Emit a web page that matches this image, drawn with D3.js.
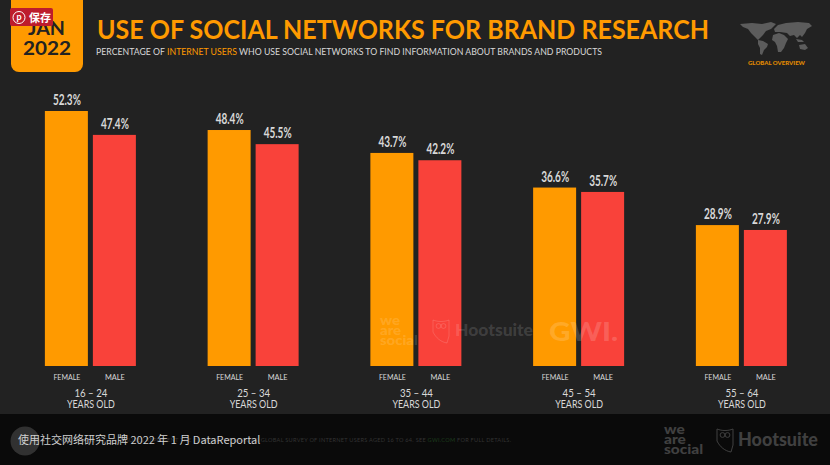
<!DOCTYPE html>
<html>
<head>
<meta charset="utf-8">
<script src="https://cdn.jsdelivr.net/npm/d3@7"></script>
<style>
    html, body { margin: 0; padding: 0; background: #222; }
    svg { display: block; }
    text { font-family: Lato, "Noto Sans", sans-serif; }
    .axis path, .axis line { display: none; }
</style>
</head>
<body>
<svg id="chart"></svg>
<script>
const ageGroups = ['16 – 24', '25 – 34', '35 – 44', '45 – 54', '55 – 64'];
const genders = ['FEMALE', 'MALE'];
const femaleValues = [52.3, 48.4, 43.7, 36.6, 28.9];
const maleValues = [47.4, 45.5, 42.2, 35.7, 27.9];

const width = 830;
const height = 465;
const baseline = 366;

const orange = '#ff9a00';
const red = '#f9423a';
const light = '#d8d8d8';

const svg = d3.select('#chart').attr('width', width).attr('height', height);

svg.append('rect').attr('width', width).attr('height', height).attr('fill', '#222');

// Scales
const x = d3.scaleBand().domain(ageGroups).range([9, 822.75]);
const xInner = d3.scaleBand().domain(genders)
    .range([x.bandwidth() / 2 - 45.5, x.bandwidth() / 2 + 45.5])
    .paddingInner(5 / 48);
const y = d3.scaleLinear().domain([0, 52.3]).range([baseline, 111]);

// Bars
const rows = ageGroups.flatMap((age, i) => [
    { age, gender: 'FEMALE', value: femaleValues[i] },
    { age, gender: 'MALE', value: maleValues[i] }
]);

const bars = svg.append('g').attr('class', 'bars');

bars.selectAll('rect')
    .data(rows)
    .join('rect')
    .attr('x', d => x(d.age) + xInner(d.gender))
    .attr('y', d => y(d.value))
    .attr('width', xInner.bandwidth())
    .attr('height', d => baseline - y(d.value))
    .attr('fill', d => d.gender === 'FEMALE' ? orange : red);

// Value labels are a condensed face in the original, so squeeze them
bars.selectAll('text')
    .data(rows)
    .join('text')
    .attr('x', d => x(d.age) + xInner(d.gender) + xInner.bandwidth() / 2 + 0.5)
    .attr('y', d => y(d.value) - 6)
    .attr('text-anchor', 'middle')
    .attr('font-size', 14.5)
    .attr('font-weight', 700)
    .attr('textLength', 28)
    .attr('lengthAdjust', 'spacingAndGlyphs')
    .attr('fill', light)
    .text(d => d.value.toFixed(1) + '%');

// Gender labels
ageGroups.forEach(age => {
    const axis = d3.axisBottom(xInner).tickSize(0).tickPadding(0);
    const g = svg.append('g')
        .attr('class', 'axis')
        .attr('transform', `translate(${x(age) + 0.5},${baseline + 8})`)
        .call(axis);
    g.selectAll('text')
        .attr('font-size', 8)
        .attr('fill', light)
        .style('font-family', 'Lato, sans-serif')
        .attr('textLength', d => d === 'FEMALE' ? 27 : 20)
        .attr('lengthAdjust', 'spacingAndGlyphs');
});

// Age group labels
const ageAxis = d3.axisBottom(x).tickSize(0).tickPadding(0);
const ageG = svg.append('g')
    .attr('class', 'axis')
    .attr('transform', `translate(0.5,${baseline + 23})`)
    .call(ageAxis);
ageG.selectAll('text')
    .attr('font-size', 11)
    .attr('fill', light)
    .style('font-family', 'Lato, sans-serif')
    .attr('textLength', 33)
    .attr('lengthAdjust', 'spacingAndGlyphs');
ageG.selectAll('.tick').append('text')
    .attr('y', 12)
    .attr('dy', '0.71em')
    .attr('font-size', 10.5)
    .attr('fill', light)
    .style('font-family', 'Lato, sans-serif')
    .attr('textLength', 48)
    .attr('lengthAdjust', 'spacingAndGlyphs')
    .text('YEARS OLD');

// Header
svg.append('path')
    .attr('d', 'M11,0H83V64a8,8 0 0 1 -8,8H19a8,8 0 0 1 -8,-8Z')
    .attr('fill', orange);
svg.append('text').attr('x', 46.5).attr('y', 35).attr('text-anchor', 'middle')
    .attr('font-size', 19).attr('font-weight', 700).attr('fill', '#222')
    .attr('textLength', 37).attr('lengthAdjust', 'spacingAndGlyphs').text('JAN');
svg.append('text').attr('x', 47).attr('y', 55).attr('text-anchor', 'middle')
    .attr('font-size', 19).attr('font-weight', 700).attr('fill', '#222')
    .attr('textLength', 48).attr('lengthAdjust', 'spacingAndGlyphs').text('2022');

svg.append('text').attr('x', 97).attr('y', 38.5)
    .attr('font-size', 26.5).attr('font-weight', 700).attr('fill', orange)
    .attr('textLength', 612).attr('lengthAdjust', 'spacingAndGlyphs')
    .text('USE OF SOCIAL NETWORKS FOR BRAND RESEARCH');

const sub = svg.append('text').attr('x', 96).attr('y', 55)
    .attr('font-size', 9.3).attr('fill', light)
    .attr('textLength', 506).attr('lengthAdjust', 'spacingAndGlyphs');
sub.append('tspan').text('PERCENTAGE OF ');
sub.append('tspan').attr('fill', orange).text('INTERNET USERS');
sub.append('tspan').text(' WHO USE SOCIAL NETWORKS TO FIND INFORMATION ABOUT BRANDS AND PRODUCTS');

// Rough world map, top right
const mapShapes = [
    'M740,24L752,23L762,24L771,22L776,24L771,29L766,31L763,35L760,38L758,40L755,37L751,33L748,29L743,27Z',
    'M758,40L763,41L768,44L767,47L764,50L762,55L760,54L760,48L758,44Z',
    'M773,35L779,33L784,35L788,39L786,43L784,48L781,52L778,52L777,46L775,42L772,40Z',
    'M774,29L778,25L786,23L798,22L809,23L812,26L807,29L805,33L802,37L800,35L797,38L794,35L790,36L787,33L780,32L775,32Z',
    'M799,45L805,44L808,48L805,50L800,49Z',
    'M796,39L802,40L804,42L798,42Z'
];
svg.append('g').selectAll('path')
    .data(mapShapes)
    .join('path')
    .attr('d', d => d)
    .attr('fill', '#5c5c5c');
svg.append('text').attr('x', 776.5).attr('y', 65).attr('text-anchor', 'middle')
    .attr('font-size', 5.6).attr('font-weight', 900).attr('fill', '#e08a00')
    .attr('textLength', 57).attr('lengthAdjust', 'spacingAndGlyphs')
    .text('GLOBAL OVERVIEW');

// Draws the owl outline shared by both Hootsuite logos
function owl(parent, ox, oy, color, opacity) {
    const g = parent.append('g')
        .attr('transform', `translate(${ox},${oy})`)
        .attr('fill', 'none')
        .attr('stroke', color)
        .attr('stroke-opacity', opacity);
    g.append('path').attr('d', 'M0,0C5,2 11,2 16,0V16L14,23C8,22 3,18 0,12Z');
    g.append('circle').attr('cx', 5.5).attr('cy', 6).attr('r', 2.4);
    g.append('circle').attr('cx', 10.5).attr('cy', 6).attr('r', 2.4);
}

// Draws the stacked "we are social" wordmark
function wordmark(parent, ox, baselines, scaleX, size, fill, opacity) {
    ['we', 'are', 'social'].forEach((t, i) => {
        parent.append('text')
            .attr('transform', `translate(${ox},${baselines[i]}) scale(${scaleX},1)`)
            .attr('font-size', size).attr('font-weight', 900)
            .attr('fill', fill).attr('fill-opacity', opacity)
            .text(t);
    });
}

// Watermarks over the bars
const wm = svg.append('g');
wordmark(wm, 380, [325, 335, 345], 1.15, 13, '#fff', 0.14);
owl(wm, 433, 320, '#fff', 0.14);
wm.append('text').attr('x', 455).attr('y', 336)
    .attr('font-size', 17).attr('font-weight', 900)
    .attr('fill', '#fff').attr('fill-opacity', 0.14)
    .attr('textLength', 78).attr('lengthAdjust', 'spacingAndGlyphs')
    .text('Hootsuite');
wm.append('text').attr('x', 549).attr('y', 341)
    .attr('font-size', 26).attr('font-weight', 900)
    .attr('fill', '#fff').attr('fill-opacity', 0.16)
    .attr('textLength', 69).attr('lengthAdjust', 'spacingAndGlyphs')
    .text('GWI.');

// Footer
svg.append('rect').attr('x', 0).attr('y', 414).attr('width', width).attr('height', 51).attr('fill', '#0a0a0a');
const source = svg.append('text').attr('x', 48).attr('y', 442)
    .attr('font-size', 5.6).attr('fill', '#333').attr('textLength', 463)
    .attr('lengthAdjust', 'spacing');
source.append('tspan').text('SOURCE: GWI (Q3 2021). FIGURES REPRESENT THE FINDINGS OF A BROAD GLOBAL SURVEY OF INTERNET USERS AGED 16 TO 64. SEE ');
source.append('tspan').attr('fill', '#1d3d1d').text('GWI.COM');
source.append('tspan').text(' FOR FULL DETAILS.');

const logo = svg.append('g');
wordmark(logo, 664, [434, 444, 454], 1.15, 13.5, '#404040', 1);
owl(logo, 717, 429, '#404040', 1);
logo.append('text').attr('x', 738).attr('y', 446)
    .attr('font-size', 18).attr('font-weight', 900).attr('fill', '#404040')
    .attr('textLength', 80).attr('lengthAdjust', 'spacingAndGlyphs')
    .text('Hootsuite');

// Browser overlays: save button and image caption
svg.append('circle').attr('cx', 25).attr('cy', 441).attr('r', 14.5).attr('fill', '#fff').attr('fill-opacity', 0.16);
svg.append('text').attr('x', 18).attr('y', 444)
    .attr('font-size', 11).attr('fill', '#cfcfcf')
    .style('font-family', '"Noto Sans CJK SC", sans-serif')
    .text('使用社交网络研究品牌 2022 年 1 月 DataReportal');

svg.append('rect').attr('x', 10).attr('y', 8).attr('width', 43).attr('height', 18).attr('rx', 2).attr('fill', '#bd1c2c');
svg.append('circle').attr('cx', 19).attr('cy', 17.5).attr('r', 6)
    .attr('fill', 'none').attr('stroke', '#fff').attr('stroke-width', 1);
svg.append('text').attr('x', 19).attr('y', 20).attr('text-anchor', 'middle')
    .attr('font-size', 9).attr('font-weight', 700).attr('fill', '#fff').text('p');
svg.append('text').attr('x', 29).attr('y', 21.5)
    .attr('font-size', 11).attr('font-weight', 700).attr('fill', '#fff')
    .style('font-family', '"Noto Sans CJK SC", sans-serif')
    .text('保存');
</script>
</body>
</html>
